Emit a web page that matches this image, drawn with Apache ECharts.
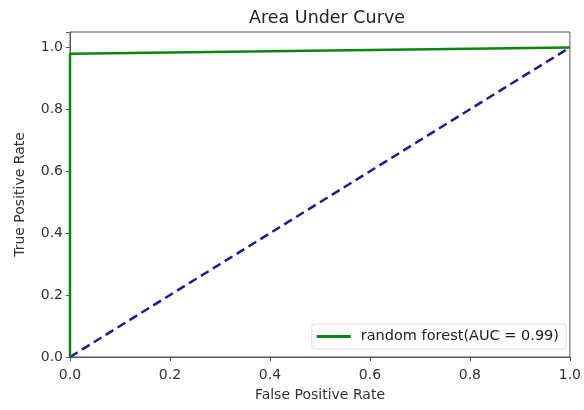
<!DOCTYPE html>
<html>
<head>
<meta charset="utf-8">
<script src="https://cdn.jsdelivr.net/npm/echarts@6/dist/echarts.min.js"></script>
<style>
  html, body { margin: 0; padding: 0; background: #fff; }
  #main { width: 584px; height: 410px; }
</style>
</head>
<body>
<div id="main"></div>
<script>
// ROC curve points
var fpr = [0, 0, 1];
var tpr = [0, 0.98, 1];
// chance line
var chanceX = [0, 1];
var chanceY = [0, 1];
var xTicks = [0, 0.2, 0.4, 0.6, 0.8, 1.0];
var yTicks = [0, 0.2, 0.4, 0.6, 0.8, 1.0];

var font = "DejaVu Sans";
var chart = echarts.init(document.getElementById("main"));

function pairs(xs, ys) {
  var out = [];
  for (var i = 0; i < xs.length; i++) {
    out.push([xs[i], ys[i]]);
  }
  return out;
}

var axisCommon = {
  axisLine: { show: true, onZero: false, lineStyle: { color: "#555", width: 1 } },
  axisTick: { show: true, inside: false, length: 4, lineStyle: { color: "#555" } },
  axisLabel: {
    color: "#333",
    fontFamily: font,
    fontSize: 14,
    margin: 7,
    formatter: function(v) { return v.toFixed(1); }
  },
  splitLine: { show: false },
  nameTextStyle: { color: "#333", fontFamily: font, fontSize: 14 }
};

var option = {
  backgroundColor: "#fff",
  animation: false,
  title: {
    text: "Area Under Curve",
    left: 322,
    top: 4,
    textAlign: "center",
    textStyle: { color: "#222", fontFamily: font, fontSize: 17.5, fontWeight: "normal" }
  },
  grid: {
    left: 70,
    right: 12,
    top: 32,
    bottom: 53,
    show: true,
    borderColor: "#555",
    borderWidth: 1
  },
  legend: {
    right: 18,
    bottom: 61,
    orient: "vertical",
    data: ["random forest(AUC = 0.99)"],
    itemWidth: 34,
    itemHeight: 3,
    itemGap: 0,
    icon: "rect",
    backgroundColor: "#fff",
    borderColor: "#ddd",
    borderWidth: 1,
    borderRadius: 3,
    padding: [5, 7, 5, 5],
    textStyle: { color: "#222", fontFamily: font, fontSize: 14.5, padding: [0, 0, 0, 5] }
  },
  xAxis: Object.assign({}, axisCommon, {
    type: "value",
    min: 0,
    max: 1,
    interval: 0.2,
    name: "False Positive Rate",
    nameLocation: "middle",
    nameGap: 31,
    axisLabel: Object.assign({}, axisCommon.axisLabel, { margin: 11 })
  }),
  yAxis: Object.assign({}, axisCommon, {
    type: "value",
    min: 0,
    max: 1.05,
    interval: 0.2,
    name: "True Positive Rate",
    nameLocation: "middle",
    nameGap: 43,
    axisLabel: Object.assign({}, axisCommon.axisLabel, {
      formatter: function(v) { return v > 1.01 ? "" : v.toFixed(1); }
    })
  }),
  series: [
    {
      name: "random forest(AUC = 0.99)",
      type: "line",
      data: pairs(fpr, tpr),
      symbol: "none",
      lineStyle: { color: "#0a870a", width: 2.5 },
      itemStyle: { color: "#0a870a" },
      z: 3
    },
    {
      name: "chance",
      type: "line",
      data: pairs(chanceX, chanceY),
      symbol: "none",
      lineStyle: { color: "#1a1aa0", width: 2.5, type: [9, 5] },
      itemStyle: { color: "#1a1aa0" },
      z: 2
    }
  ]
};

chart.setOption(option);
</script>
</body>
</html>
